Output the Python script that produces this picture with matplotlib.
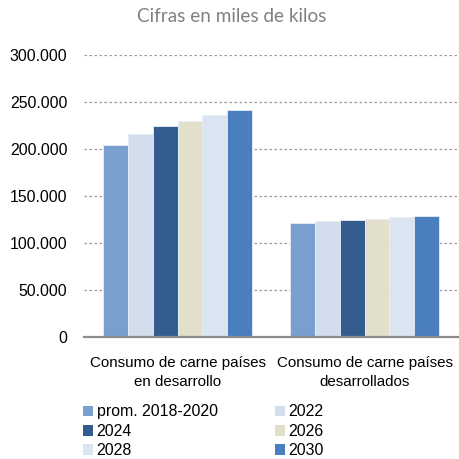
import numpy as np
import matplotlib.pyplot as plt
from matplotlib.ticker import FuncFormatter
from matplotlib.patches import Patch

# Data
categories = ['Consumo de carne países\nen desarrollo', 'Consumo de carne países\ndesarrollados']
series_names = ['prom. 2018-2020', '2022', '2024', '2026', '2028', '2030']
desarrollo = [204000, 216000, 224000, 230000, 236000, 242000]
desarrollados = [121600, 123000, 124500, 125900, 127300, 128400]
colors = ['#789FCE', '#D2DEED', '#335D8F', '#E2DFCB', '#DBE4F1', '#4A7EBE']

plt.rcParams['font.family'] = ['Liberation Sans', 'DejaVu Sans']

fig = plt.figure(figsize=(4.59, 4.59), dpi=100)
ax = fig.add_axes([0.183, 0.266, 0.815, 0.614])

x = np.arange(len(categories))
width = 0.8 / len(series_names)
for i, name in enumerate(series_names):
    vals = [desarrollo[i], desarrollados[i]]
    ax.bar(x - 0.4 + width * (i + 0.5), vals, width, color=colors[i],
           edgecolor='#E8EEF6', linewidth=0.6, label=name, zorder=3)

ax.set_xlim(-0.5, 1.5)
ax.set_ylim(0, 300000)
ax.set_yticks(np.arange(0, 300001, 50000))
ax.yaxis.set_major_formatter(FuncFormatter(lambda v, p: f'{v:,.0f}'.replace(',', '.')))
ax.set_xticks(x)
ax.set_xticklabels(categories, fontsize=10.9, linespacing=1.45)
ax.tick_params(axis='y', length=0, pad=12, labelsize=11.4)
ax.tick_params(axis='x', length=0, pad=14)

ax.grid(axis='y', linestyle=(0, (2, 2)), color='#999999', linewidth=0.9, zorder=0)
for s in ['top', 'right', 'left']:
    ax.spines[s].set_visible(False)
ax.spines['bottom'].set_color('#8C8C8C')
ax.spines['bottom'].set_linewidth(1.6)
ax.spines['bottom'].set_zorder(4)

fig.text(0.505, 0.965, 'Cifras en miles de kilos', ha='center', va='center',
         fontsize=13.6, color='#808080', family=['Lato', 'DejaVu Sans'])

# legend ordered row-wise like the reference
order = [0, 2, 4, 1, 3, 5]
handles = [Patch(facecolor=colors[i], edgecolor='none') for i in order]
labels = [series_names[i] for i in order]
fig.legend(handles, labels, ncol=2, loc='upper left', bbox_to_anchor=(0.181, 0.119),
           frameon=False, fontsize=11.4, handlelength=0.65, handleheight=0.65,
           handletextpad=0.2, columnspacing=3.6, labelspacing=0.28,
           borderpad=0, borderaxespad=0)

fig.savefig('out.png', dpi=100)
